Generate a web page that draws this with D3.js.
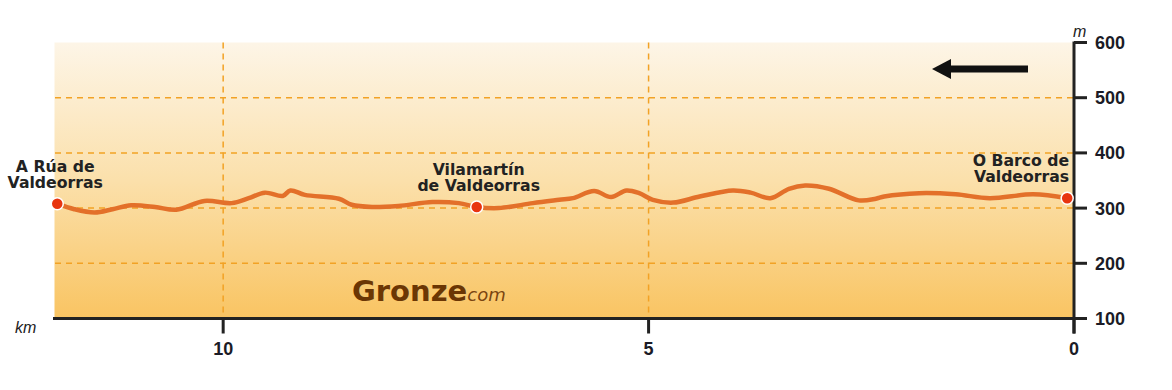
<!DOCTYPE html>
<html>
<head>
<meta charset="utf-8">
<script src="https://cdn.jsdelivr.net/npm/d3@7"></script>
<style>
  body { margin: 0; background: #fff; }
  svg { display: block; }
</style>
</head>
<body>
<div id="chart"></div>
<script>
const width = 1172;
const height = 390;

// profile: distance (km, counted from O Barco) and altitude (m)
const kmData = [11.95, 11.75, 11.51, 11.30, 11.08, 10.80, 10.55, 10.22, 9.90, 9.70,
  9.51, 9.30, 9.21, 9.04, 8.64, 8.49, 8.25, 7.94, 7.54, 7.23,
  7.02, 6.76, 6.36, 6.05, 5.89, 5.64, 5.44, 5.26, 5.11, 4.95,
  4.71, 4.40, 4.01, 3.80, 3.57, 3.35, 3.16, 2.88, 2.53, 2.33,
  2.23, 1.82, 1.39, 0.99, 0.48, 0.08];
const elevData = [308, 298, 292, 298, 305, 302, 297, 313, 309, 318,
  328, 322, 332, 324, 317, 306, 302, 304, 311, 309,
  302, 300, 309, 315, 318, 331, 320, 332, 327, 315,
  310, 321, 332, 328, 318, 335, 341, 335, 314, 317,
  321, 327, 325, 318, 325, 318];

// towns along the way
const townNames = [["A Rúa de", "Valdeorras"], ["Vilamartín", "de Valdeorras"], ["O Barco de", "Valdeorras"]];
const townKm = [11.95, 7.02, 0.08];
const townElev = [308, 302, 318];

const xTicks = [10, 5, 0];
const yTicks = [100, 200, 300, 400, 500, 600];
const gridY = [200, 300, 400, 500];
const gridX = [10, 5];

const x = d3.scaleLinear().domain([12, 0]).range([53, 1074]);
const y = d3.scaleLinear().domain([100, 600]).range([318.5, 42.5]);

const svg = d3.select("#chart").append("svg")
  .attr("width", width)
  .attr("height", height);

// background gradient
const grad = svg.append("defs").append("linearGradient")
  .attr("id", "bg").attr("x1", 0).attr("y1", 0).attr("x2", 0).attr("y2", 1);
grad.append("stop").attr("offset", "0%").attr("stop-color", "#fdf5e7");
grad.append("stop").attr("offset", "50%").attr("stop-color", "#fbe0ab");
grad.append("stop").attr("offset", "100%").attr("stop-color", "#f9c462");

svg.append("rect")
  .attr("x", x(12) + 1.5)
  .attr("y", y(600))
  .attr("width", x(0) - x(12) - 1.5)
  .attr("height", y(100) - y(600))
  .attr("fill", "url(#bg)");

// dashed grid
svg.selectAll(".gy").data(gridY).enter().append("line")
  .attr("x1", x(12) + 2).attr("x2", x(0))
  .attr("y1", d => y(d)).attr("y2", d => y(d))
  .attr("stroke", "#f2a225").attr("stroke-width", 1.5)
  .attr("stroke-dasharray", "6,5");

svg.selectAll(".gx").data(gridX).enter().append("line")
  .attr("x1", d => x(d)).attr("x2", d => x(d))
  .attr("y1", y(600)).attr("y2", y(100))
  .attr("stroke", "#f2a225").attr("stroke-width", 1.5)
  .attr("stroke-dasharray", "6,5");

// watermark
const wm = svg.append("text")
  .attr("x", 352).attr("y", 301)
  .style("font-family", "DejaVu Sans, Verdana, sans-serif");
wm.append("tspan").text("Gronze")
  .style("font-weight", "bold").style("font-size", "29px").attr("fill", "#6b3604");
wm.append("tspan").text("com")
  .style("font-style", "italic").style("font-size", "18px").attr("fill", "#7a4410");

// direction arrow
svg.append("line")
  .attr("x1", 1028).attr("x2", 946).attr("y1", 69).attr("y2", 69)
  .attr("stroke", "#111").attr("stroke-width", 7);
svg.append("path")
  .attr("d", "M932,69 L951,59 L951,79 Z")
  .attr("fill", "#111");

// profile line
const line = d3.line()
  .x((d, i) => x(kmData[i]))
  .y((d, i) => y(elevData[i]))
  .curve(d3.curveCatmullRom.alpha(0.5));

svg.append("path")
  .datum(kmData)
  .attr("d", line)
  .attr("fill", "none")
  .attr("stroke", "#e3702a")
  .attr("stroke-width", 4.5)
  .attr("stroke-linejoin", "round")
  .attr("stroke-linecap", "round");

// axes
svg.append("line")
  .attr("x1", x(12)).attr("x2", x(0))
  .attr("y1", y(100)).attr("y2", y(100))
  .attr("stroke", "#222").attr("stroke-width", 3);
svg.append("line")
  .attr("x1", x(0)).attr("x2", x(0))
  .attr("y1", y(600) - 1).attr("y2", y(100) + 15)
  .attr("stroke", "#222").attr("stroke-width", 3);

svg.selectAll(".xt").data(xTicks).enter().append("line")
  .attr("x1", d => x(d)).attr("x2", d => x(d))
  .attr("y1", y(100)).attr("y2", y(100) + 15)
  .attr("stroke", "#222").attr("stroke-width", 3);

svg.selectAll(".xl").data(xTicks).enter().append("text")
  .attr("x", d => x(d)).attr("y", 355)
  .attr("text-anchor", "middle")
  .style("font-family", "Liberation Sans, Arial, sans-serif")
  .style("font-weight", "bold").style("font-size", "18px")
  .attr("fill", "#1b1b26")
  .text(d => d);

svg.selectAll(".yt").data(yTicks).enter().append("line")
  .attr("x1", x(0)).attr("x2", x(0) + 13)
  .attr("y1", d => y(d)).attr("y2", d => y(d))
  .attr("stroke", "#222").attr("stroke-width", 3);

svg.selectAll(".yl").data(yTicks).enter().append("text")
  .attr("x", 1095).attr("y", d => y(d) + 6.5)
  .style("font-family", "Liberation Sans, Arial, sans-serif")
  .style("font-weight", "bold").style("font-size", "18px")
  .attr("fill", "#1b1b26")
  .text(d => d);

svg.append("text")
  .attr("x", 15).attr("y", 333)
  .style("font-family", "Liberation Sans, Arial, sans-serif")
  .style("font-style", "italic").style("font-size", "16px")
  .attr("fill", "#222").text("km");

svg.append("text")
  .attr("x", 1073).attr("y", 37)
  .style("font-family", "Liberation Sans, Arial, sans-serif")
  .style("font-style", "italic").style("font-size", "16px")
  .attr("fill", "#222").text("m");

// towns
svg.selectAll(".town").data(townKm).enter().append("circle")
  .attr("cx", d => x(d))
  .attr("cy", (d, i) => y(townElev[i]))
  .attr("r", 6)
  .attr("fill", "#e8340f")
  .attr("stroke", "#fff").attr("stroke-width", 1.5);

const anchors = ["middle", "middle", "end"];
const dxs = [-2, 2, 2];
svg.selectAll(".tl").data(townNames).enter().append("text")
  .attr("text-anchor", (d, i) => anchors[i])
  .style("font-family", "DejaVu Sans, Verdana, sans-serif")
  .style("font-weight", "bold").style("font-size", "15.7px")
  .attr("fill", "#222")
  .each(function (d, i) {
    const t = d3.select(this);
    const tx = x(townKm[i]) + dxs[i];
    const base = y(townElev[i]) - 32;
    d.forEach((s, j) => {
      t.append("tspan").attr("x", tx).attr("y", base + j * 16).text(s);
    });
  });
</script>
</body>
</html>
